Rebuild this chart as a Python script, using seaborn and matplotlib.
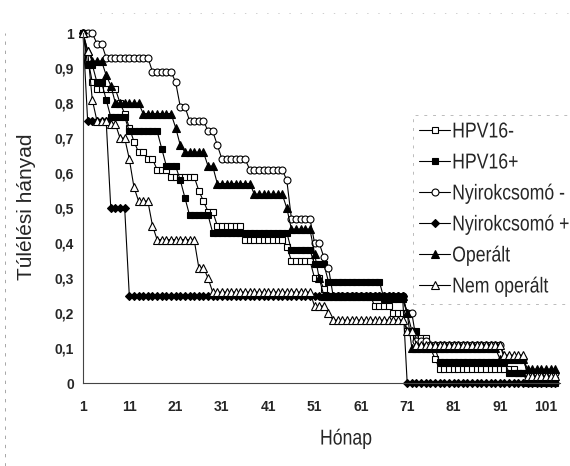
import numpy as np
import pandas as pd
import seaborn as sns
import matplotlib.pyplot as plt
from matplotlib.lines import Line2D
from matplotlib.patheffects import AbstractPathEffect
from matplotlib.transforms import Affine2D, Bbox

# months on the category axis
months = np.arange(1, 104)

# survival fraction per step, and how many months each step lasts
hpv_neg_vals = [1.0, 0.93, 0.86, 0.84, 0.80, 0.77, 0.73, 0.69, 0.66, 0.64, 0.61, 0.59, 0.55, 0.52, 0.49, 0.45,
                0.41, 0.39, 0.35, 0.30, 0.27, 0.25, 0.22, 0.20, 0.15, 0.13, 0.10, 0.07, 0.04, 0.03, 0.01]
hpv_neg_runs = [1, 1, 1, 5, 1, 1, 1, 1, 2, 2, 3, 6, 1, 1, 2, 6, 9, 1, 5, 2, 1, 10, 4, 3, 2, 3, 1, 1, 17, 6, 3]

hpv_pos_vals = [1.0, 0.91, 0.86, 0.81, 0.76, 0.72, 0.67, 0.62, 0.58, 0.53, 0.48, 0.43, 0.38, 0.34, 0.29, 0.24,
                0.20, 0.15, 0.10, 0.06, 0.03, 0.0]
hpv_pos_runs = [1, 2, 2, 1, 4, 7, 1, 3, 1, 1, 5, 17, 5, 3, 12, 5, 1, 2, 4, 15, 4, 7]

nyirok_neg_vals = [1.0, 0.97, 0.93, 0.89, 0.86, 0.79, 0.75, 0.72, 0.68, 0.64, 0.61, 0.58, 0.47, 0.40, 0.36, 0.33,
                   0.25, 0.20, 0.12, 0.11, 0.07, 0.03]
nyirok_neg_runs = [3, 2, 10, 5, 1, 2, 4, 2, 1, 6, 8, 1, 5, 2, 1, 1, 16, 2, 3, 16, 5, 7]

nyirok_pos_vals = [1.0, 0.75, 0.50, 0.25, 0.0]
nyirok_pos_runs = [1, 5, 4, 60, 33]

operalt_vals = [1.0, 0.95, 0.92, 0.88, 0.85, 0.80, 0.77, 0.73, 0.68, 0.66, 0.62, 0.57, 0.54, 0.50, 0.44, 0.37,
                0.30, 0.25, 0.20, 0.10, 0.07, 0.04]
operalt_runs = [1, 1, 3, 1, 1, 6, 7, 1, 1, 5, 2, 8, 7, 1, 5, 1, 1, 18, 1, 19, 6, 7]

nem_operalt_vals = [1.0, 0.95, 0.81, 0.75, 0.74, 0.70, 0.64, 0.56, 0.52, 0.45, 0.41, 0.33, 0.30, 0.26, 0.22, 0.20,
                    0.18, 0.15, 0.11, 0.08, 0.02]
nem_operalt_runs = [1, 1, 1, 3, 2, 2, 1, 1, 3, 1, 9, 2, 1, 22, 3, 1, 16, 2, 19, 5, 7]

series_names = ["HPV16-", "HPV16+", "Nyirokcsomó -", "Nyirokcsomó +", "Operált", "Nem operált"]
series_vals = [hpv_neg_vals, hpv_pos_vals, nyirok_neg_vals, nyirok_pos_vals, operalt_vals, nem_operalt_vals]
series_runs = [hpv_neg_runs, hpv_pos_runs, nyirok_neg_runs, nyirok_pos_runs, operalt_runs, nem_operalt_runs]

x_ticks = [1, 11, 21, 31, 41, 51, 61, 71, 81, 91, 101]
y_ticks = [0, 0.1, 0.2, 0.3, 0.4, 0.5, 0.6, 0.7, 0.8, 0.9, 1.0]
y_tick_labels = ["0", "0,1", "0,2", "0,3", "0,4", "0,5", "0,6", "0,7", "0,8", "0,9", "1"]

frames = []
for name, vals, runs in zip(series_names, series_vals, series_runs):
    frames.append(pd.DataFrame({"Hónap": months,
                                "Túlélés": np.repeat(vals, runs),
                                "csoport": name}))
df = pd.concat(frames, ignore_index=True)

sns.set_style("white")
plt.rcParams["font.family"] = ["Liberation Sans", "DejaVu Sans"]

SQ = 0.82  # Arial Narrow is about 82% the width of Arial


class Squeeze(AbstractPathEffect):
    """draw text narrower by scaling x around its origin"""

    def __init__(self, sx):
        super().__init__()
        self.sx = sx

    def draw_path(self, renderer, gc, tpath, affine, rgbFace=None):
        x0 = affine.get_matrix()[0, 2]
        sq = Affine2D().translate(-x0, 0).scale(self.sx, 1).translate(x0, 0)
        renderer.draw_path(gc, tpath, affine + sq, rgbFace)


def narrow(text, sx=SQ):
    text.set_path_effects([Squeeze(sx)])
    orig = text.get_window_extent

    # report the squeezed box, which is what actually gets drawn
    def ext(renderer=None, dpi=None):
        bb = orig(renderer, dpi)
        return Bbox.from_extents(bb.x0, bb.y0, bb.x0 + sx * bb.width, bb.y1)

    text.get_window_extent = ext


fig = plt.figure(figsize=(5.7, 4.66), dpi=100)
ax = fig.add_axes([0.1456, 0.178, 0.8369, 0.751])

marker_style = {
    "HPV16-": ("s", "white", 4.6),
    "HPV16+": ("s", "black", 4.6),
    "Nyirokcsomó -": ("o", "white", 5.0),
    "Nyirokcsomó +": ("D", "black", 4.2),
    "Operált": ("^", "black", 5.2),
    "Nem operált": ("^", "white", 5.2),
}

for name in series_names:
    m, fc, ms = marker_style[name]
    sub = df[df["csoport"] == name]
    sns.lineplot(data=sub, x="Hónap", y="Túlélés", ax=ax, color="black", lw=0.8,
                 marker=m, markersize=ms, markerfacecolor=fc, markeredgecolor="black",
                 markeredgewidth=0.8, label=name, sort=False, clip_on=False)

ax.set_xlim(1, 104)
ax.set_ylim(0, 1)
ax.set_xticks(x_ticks)
ax.set_xticklabels([str(t) for t in x_ticks], fontsize=10, fontweight="bold")
ax.set_yticks(y_ticks)
ax.set_yticklabels(y_tick_labels, fontsize=10, fontweight="bold")
ax.tick_params(axis="both", direction="inout", length=5, width=0.8, color="#444444")
ax.tick_params(axis="x", pad=10)
ax.tick_params(axis="y", pad=4)

for s in ["top", "right"]:
    ax.spines[s].set_visible(False)
for s in ["left", "bottom"]:
    ax.spines[s].set_color("#444444")
    ax.spines[s].set_linewidth(0.8)

ax.set_ylabel("Túlélési hányad", fontsize=15)
ax.yaxis.set_label_coords(-0.0985, 0.503)

ax.set_xlabel("Hónap", fontsize=15.5)
ax.xaxis.set_label_coords(0.563, -0.13)
narrow(ax.xaxis.label)

handles, labels = ax.get_legend_handles_labels()
spacing = 0.29
for _ in range(3):
    leg = ax.legend(handles, labels, loc="upper left", bbox_to_anchor=(413 / 570, 1 - 115 / 466),
                    bbox_transform=fig.transFigure, frameon=True, fancybox=False,
                    fontsize=15.5, handlelength=1.4, handletextpad=0.12, labelspacing=spacing,
                    borderpad=0.3, borderaxespad=0)
    fig.canvas.draw()
    ys = [t.get_window_extent().y0 for t in leg.get_texts()]
    pitch = (ys[0] - ys[-1]) / 5
    spacing += (31 - pitch) / (15.5 * 100 / 72)

for t in leg.get_texts():
    narrow(t)
leg.get_frame().set_edgecolor("#aaaaaa")
leg.get_frame().set_linestyle((0, (3, 6)))
leg.get_frame().set_linewidth(0.7)

# faint scan edges of the original page
fig.add_artist(Line2D([5 / 570, 5 / 570], [0.0, 0.93], transform=fig.transFigure,
                      color="#999999", lw=0.6, ls=(0, (4, 7))))
fig.add_artist(Line2D([100 / 570, 1.0], [1 - 13 / 466, 1 - 13 / 466], transform=fig.transFigure,
                      color="#bbbbbb", lw=0.5, ls=(0, (2, 14))))

fig.savefig("out.png", dpi=100, facecolor="white")
